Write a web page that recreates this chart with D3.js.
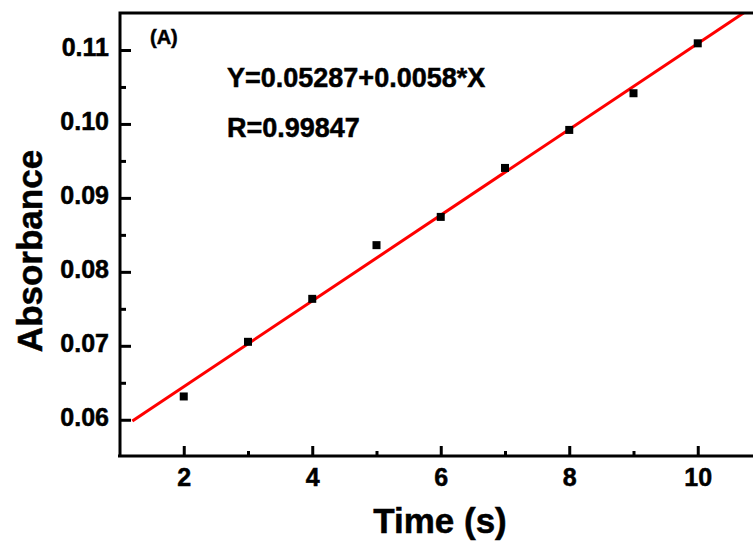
<!DOCTYPE html>
<html>
<head>
<meta charset="utf-8">
<script src="https://cdn.jsdelivr.net/npm/d3@7/dist/d3.min.js"></script>
<style>
  body { margin: 0; background: #fff; }
  svg { display: block; }
  text { font-family: "Liberation Sans", Arial, sans-serif; font-weight: bold; fill: #000; stroke: #000; stroke-width: 0.5px; }
</style>
</head>
<body>
<div id="chart"></div>
<script>
// data
const times = [2, 3, 4, 5, 6, 7, 8, 9, 10];
const absorbance = [0.06315, 0.07054, 0.07635, 0.08361, 0.08743, 0.09405, 0.09919, 0.10415, 0.1109];
const fitIntercept = 0.05287;
const fitSlope = 0.0058;
const fitRange = [1.2, 10.8];
const xTicks = [2, 4, 6, 8, 10];
const xMinor = [3, 5, 7, 9];
const yTicks = [0.06, 0.07, 0.08, 0.09, 0.10, 0.11];
const yMinor = [0.065, 0.075, 0.085, 0.095, 0.105];
const labels = {x: 'Time (s)', y: 'Absorbance', tag: '(A)', eq: 'Y=0.05287+0.0058*X', r: 'R=0.99847'};

const W = 753, H = 541;
const plotL = 120, plotT = 13, plotB = 456, plotR = 762;

const x = d3.scaleLinear().domain([1, 11]).range([119.5, plotR]);
const y = d3.scaleLinear().domain([0.0551, 0.115]).range([plotB, plotT]);

const svg = d3.select('#chart').append('svg')
  .attr('width', W)
  .attr('height', H);

svg.append('clipPath').attr('id', 'plot')
  .append('rect')
  .attr('x', plotL).attr('y', plotT)
  .attr('width', plotR - plotL).attr('height', plotB - plotT);

// fit line
const line = d3.line().x(d => x(d)).y(d => y(fitIntercept + fitSlope * d));
svg.append('path')
  .attr('clip-path', 'url(#plot)')
  .attr('d', line(fitRange))
  .attr('fill', 'none')
  .attr('stroke', '#ff0000')
  .attr('stroke-width', 3);

// points
svg.append('g')
  .selectAll('rect')
  .data(times)
  .enter()
  .append('rect')
  .attr('x', (d, i) => x(d) - 4)
  .attr('y', (d, i) => y(absorbance[i]) - 4)
  .attr('width', 8)
  .attr('height', 8)
  .attr('fill', '#000');

// axes
function styleAxis(g) {
  g.select('.domain').remove();
  g.selectAll('line').attr('stroke', '#000').attr('stroke-width', 3);
  g.selectAll('text').attr('font-size', 25).attr('fill', '#000')
    .style('font-family', '"Liberation Sans", Arial, sans-serif').style('font-weight', 'bold');
}

svg.append('g')
  .attr('transform', `translate(0,${plotB})`)
  .call(d3.axisBottom(x).tickValues(xMinor).tickSize(-5).tickFormat(''))
  .call(styleAxis);
svg.append('g')
  .attr('transform', `translate(0,${plotB})`)
  .call(d3.axisBottom(x).tickValues(xTicks).tickSize(-10).tickPadding(14).tickFormat(d3.format('d')))
  .call(styleAxis)
  .call(g => g.selectAll('text').attr('y', 30).attr('dy', 0));

svg.append('g')
  .attr('transform', `translate(${plotL},0)`)
  .call(d3.axisLeft(y).tickValues(yMinor).tickSize(-6).tickFormat(''))
  .call(styleAxis);
svg.append('g')
  .attr('transform', `translate(${plotL},0)`)
  .call(d3.axisLeft(y).tickValues(yTicks).tickSize(-11).tickPadding(11).tickFormat(d3.format('.2f')))
  .call(styleAxis)
  .call(g => g.selectAll('text').attr('dy', 0).attr('y', 6));

// frame lines
svg.append('path')
  .attr('d', `M${plotL - 2},${plotB}H${W}M${plotL},${plotB + 1.5}V${plotT}H${W}`)
  .attr('fill', 'none')
  .attr('stroke', '#000')
  .attr('stroke-width', 3);

// titles
svg.append('text')
  .attr('transform', 'translate(42,251) rotate(-90)')
  .attr('text-anchor', 'middle')
  .attr('font-size', 35)
  .text(labels.y);
svg.append('text')
  .attr('x', 440).attr('y', 533)
  .attr('text-anchor', 'middle')
  .attr('font-size', 35)
  .text(labels.x);

svg.append('text').attr('x', 150).attr('y', 44).attr('font-size', 20).text(labels.tag);
svg.append('text').attr('x', 227).attr('y', 87).attr('font-size', 27).text(labels.eq);
svg.append('text').attr('x', 227).attr('y', 137).attr('font-size', 27).text(labels.r);
</script>
</body>
</html>
